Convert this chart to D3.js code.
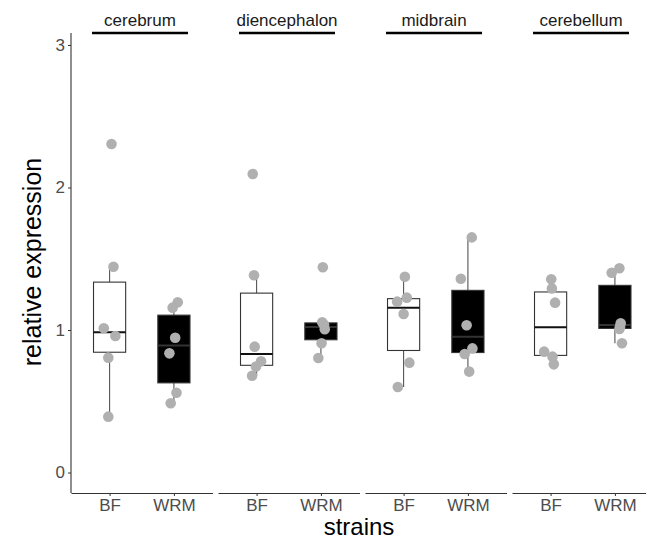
<!DOCTYPE html>
<html>
<head>
<meta charset="utf-8">
<script src="https://cdn.jsdelivr.net/npm/d3@7"></script>
<style>
  body { margin: 0; background: #fff; }
  text { font-family: "Liberation Sans", Arial, sans-serif; }
</style>
</head>
<body>
<div id="chart"></div>
<script>
// regions (facets) and strains
var regions = ["cerebrum", "diencephalon", "midbrain", "cerebellum"];
var strains = ["BF", "WRM"];
var yTicks = [0, 1, 2, 3];

// relative expression per region, per strain
var cerebrumBF  = [2.305, 1.444, 1.012, 0.958, 0.806, 0.392];
var cerebrumWRM = [1.194, 1.157, 0.946, 0.836, 0.560, 0.486];
var diencBF     = [2.095, 1.384, 0.883, 0.780, 0.743, 0.679];
var diencWRM    = [1.440, 1.054, 1.037, 1.005, 0.907, 0.804];
var midbrainBF  = [1.374, 1.227, 1.199, 1.112, 0.771, 0.600];
var midbrainWRM = [1.650, 1.360, 1.033, 0.871, 0.832, 0.708];
var cerebelBF   = [1.356, 1.292, 1.192, 0.848, 0.813, 0.759];
var cerebelWRM  = [1.433, 1.402, 1.047, 1.023, 1.007, 0.907];

// horizontal jitter of each point, in category units
var cerebrumBFj  = [0.03, 0.06, -0.09, 0.09, -0.02, -0.02];
var cerebrumWRMj = [0.06, -0.02, 0.02, -0.07, 0.04, -0.05];
var diencBFj     = [-0.06, -0.04, -0.03, 0.07, -0.01, -0.07];
var diencWRMj    = [0.03, 0.02, 0.05, 0.06, 0.01, -0.04];
var midbrainBFj  = [0.02, 0.05, -0.10, 0.00, 0.09, -0.09];
var midbrainWRMj = [0.06, -0.11, -0.02, 0.07, -0.05, 0.02];
var cerebelBFj   = [0.01, 0.02, 0.07, -0.10, 0.03, 0.05];
var cerebelWRMj  = [0.07, -0.05, 0.09, 0.08, 0.07, 0.11];

var values = [[cerebrumBF, cerebrumWRM], [diencBF, diencWRM], [midbrainBF, midbrainWRM], [cerebelBF, cerebelWRM]];
var jitter = [[cerebrumBFj, cerebrumWRMj], [diencBFj, diencWRMj], [midbrainBFj, midbrainWRMj], [cerebelBFj, cerebelWRMj]];

var w = 646, h = 540;
var panelLeft = 71, panelW = 141.5, panelStep = 147;
var panelTop = 33, panelBottom = 493;

var svg = d3.select("#chart").append("svg")
    .attr("width", w)
    .attr("height", h);

var y = d3.scaleLinear().domain([0, 3]).range([472.5, 45]);

// y axis (only on first panel)
var yAxis = svg.append("g")
    .attr("transform", "translate(" + panelLeft + ",0)")
    .call(d3.axisLeft(y).tickValues(yTicks).tickFormat(d3.format("d")).tickSize(3).tickPadding(3));
yAxis.select(".domain").remove();
yAxis.selectAll(".tick line").attr("stroke", "#333");
yAxis.selectAll(".tick text").attr("fill", "#4d4d4d").style("font-size", "17px");
svg.append("line")
    .attr("x1", panelLeft).attr("x2", panelLeft)
    .attr("y1", panelTop).attr("y2", panelBottom)
    .attr("stroke", "#333").attr("stroke-width", 1.1);

function boxStats(arr) {
    var s = arr.slice().sort(d3.ascending);
    var q1 = d3.quantile(s, 0.25), med = d3.quantile(s, 0.5), q3 = d3.quantile(s, 0.75);
    var iqr = q3 - q1;
    var lo = d3.min(s.filter(function(v) { return v >= q1 - 1.5 * iqr; }));
    var hi = d3.max(s.filter(function(v) { return v <= q3 + 1.5 * iqr; }));
    return {q1: q1, med: med, q3: q3, lo: lo, hi: hi};
}

regions.forEach(function(region, i) {
    var x0 = panelLeft + i * panelStep;
    var g = svg.append("g").attr("transform", "translate(" + x0 + ",0)");

    var x = d3.scalePoint().domain(strains).range([0, panelW]).padding(0.6);
    var unit = x.step();
    var bw = unit * 0.5;

    // strip label with underline
    g.append("text")
        .attr("x", 69).attr("y", 26)
        .attr("text-anchor", "middle")
        .style("font-size", "17px")
        .attr("fill", "#1a1a1a")
        .text(region);
    g.append("line")
        .attr("x1", 21).attr("x2", 117)
        .attr("y1", 33).attr("y2", 33)
        .attr("stroke", "#000").attr("stroke-width", 2.5);

    // x axis
    var xAxis = g.append("g")
        .attr("transform", "translate(0," + panelBottom + ")")
        .call(d3.axisBottom(x).tickSize(3).tickSizeOuter(0).tickPadding(3));
    xAxis.select(".domain").attr("stroke", "#333").attr("stroke-width", 1.1);
    xAxis.selectAll(".tick line").attr("stroke", "#333");
    xAxis.selectAll(".tick text").attr("fill", "#4d4d4d").style("font-size", "17px");

    strains.forEach(function(strain, j) {
        var data = values[i][j];
        var st = boxStats(data);
        var cx = x(strain);
        var dark = j === 1;

        // whiskers
        g.append("line")
            .attr("x1", cx).attr("x2", cx)
            .attr("y1", y(st.q3)).attr("y2", y(st.hi))
            .attr("stroke", "#555").attr("stroke-width", 1.1);
        g.append("line")
            .attr("x1", cx).attr("x2", cx)
            .attr("y1", y(st.q1)).attr("y2", y(st.lo))
            .attr("stroke", "#555").attr("stroke-width", 1.1);

        // box
        g.append("rect")
            .attr("x", cx - bw / 2)
            .attr("y", y(st.q3))
            .attr("width", bw)
            .attr("height", y(st.q1) - y(st.q3))
            .attr("fill", dark ? "#000" : "#fff")
            .attr("stroke", "#333")
            .attr("stroke-width", 1.1);

        // median
        g.append("line")
            .attr("x1", cx - bw / 2).attr("x2", cx + bw / 2)
            .attr("y1", y(st.med)).attr("y2", y(st.med))
            .attr("stroke", dark ? "#333" : "#111")
            .attr("stroke-width", 2);

        // points
        g.selectAll(".pt" + j)
            .data(data)
            .enter().append("circle")
            .attr("class", "pt" + j)
            .attr("cx", function(d, k) { return cx + jitter[i][j][k] * unit; })
            .attr("cy", function(d) { return y(d); })
            .attr("r", 5.3)
            .attr("fill", "#b0b0b0");
    });
});

// axis titles
svg.append("text")
    .attr("transform", "translate(41," + 262 + ") rotate(-90)")
    .attr("text-anchor", "middle")
    .style("font-size", "25px")
    .text("relative expression");
svg.append("text")
    .attr("x", 359).attr("y", 535)
    .attr("text-anchor", "middle")
    .style("font-size", "24px")
    .text("strains");
</script>
</body>
</html>
